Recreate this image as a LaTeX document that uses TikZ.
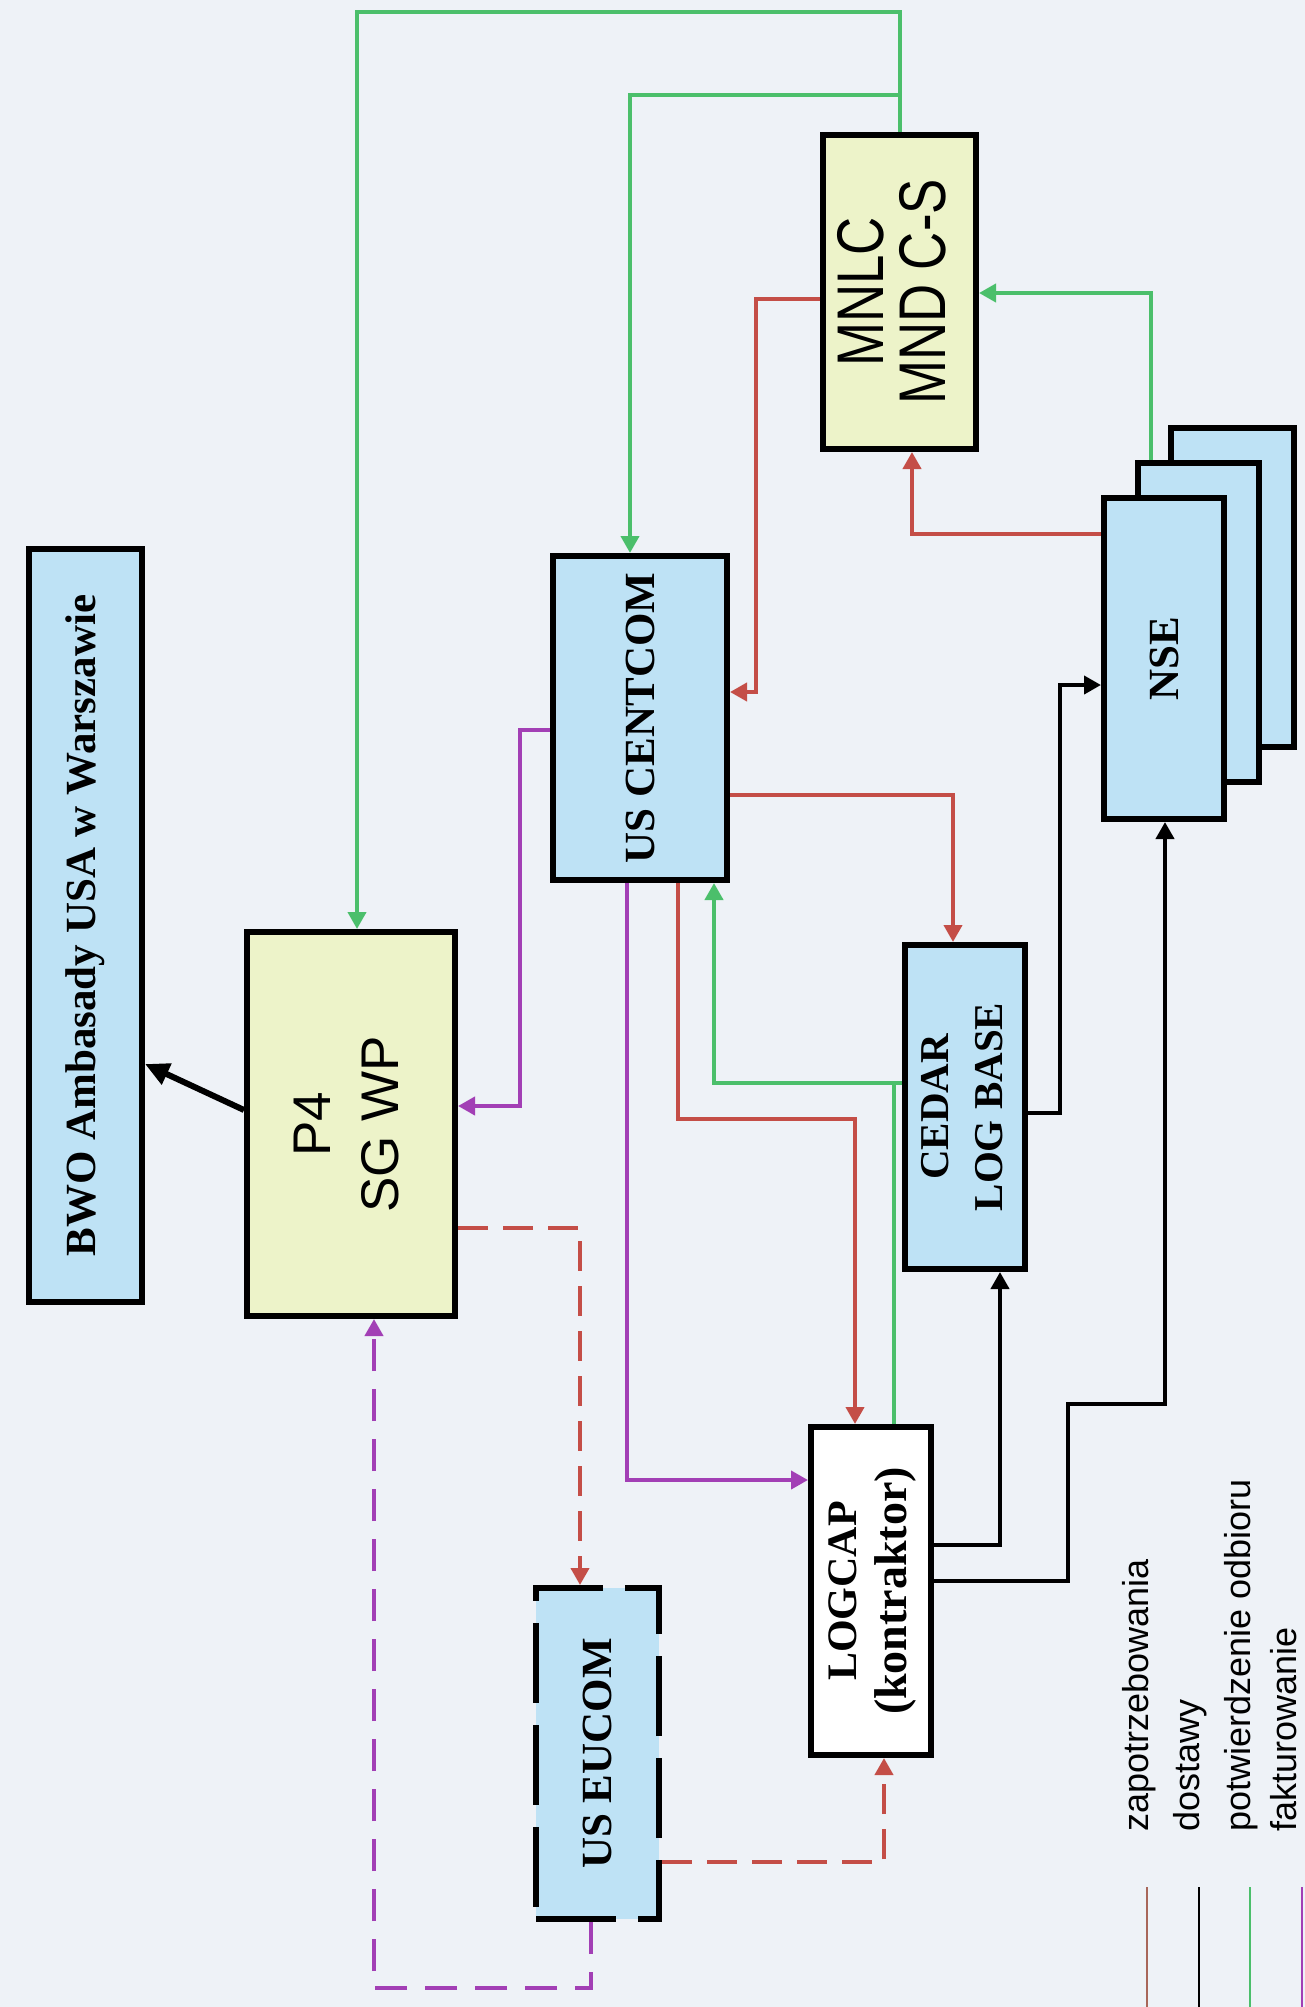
\documentclass[tikz,border=0pt]{standalone}
\usepackage{fontspec}
\setmainfont{Liberation Serif}
\newfontfamily\arialf{Liberation Sans}
\usetikzlibrary{arrows.meta,calc}
\definecolor{bgc}{HTML}{EEF2F7}
\definecolor{boxblue}{HTML}{BEE2F5}
\definecolor{boxyel}{HTML}{EDF3C9}
\definecolor{reqc}{HTML}{C44E47}
\definecolor{confc}{HTML}{4BBF6B}
\definecolor{invc}{HTML}{A23FB5}
\definecolor{legred}{HTML}{A8675A}
\tikzset{
 bx/.style n args={2}{draw=black,line width=6pt,inner sep=0pt,outer sep=3pt,minimum width=#1,minimum height=#2},
 blu/.style={fill=boxblue},
 yel/.style={fill=boxyel},
 conn/.style={line width=4pt,line join=miter},
 req/.style={conn,draw=reqc},
 conf/.style={conn,draw=confc},
 inv/.style={conn,draw=invc},
 dlv/.style={conn,draw=black},
 arr/.style={-{Triangle[length=17pt,width=18pt]}},
 dsh/.style={dash pattern=on 30pt off 15pt},
 tnr/.style={font=\fontsize{43}{54}\selectfont\bfseries},
 legtxt/.style={font=\arialf\fontsize{36}{40}\selectfont,rotate=90,anchor=base west,inner sep=0pt},
 legline/.style={line width=2.5pt},
}
\begin{document}
\begin{tikzpicture}[x=1pt,y=-1pt]
\fill[bgc] (0,0) rectangle (1305,2007);
\useasboundingbox (0,0) rectangle (1305,2007);

% boxes
\node[bx={113pt}{753pt},blu,tnr] (bwo) at (85.5,925.5) {\rotatebox{90}{BWO Ambasady USA w Warszawie}};
\node[bx={208pt}{384pt},yel,font=\arialf\fontsize{53}{68}\selectfont] (p4) at (351,1124) {\rotatebox{90}{\begin{tabular}{@{}c@{}}P4\\SG WP\end{tabular}}};
\node[bx={174pt}{324pt},blu,tnr] (cent) at (640,718) {\rotatebox{90}{US CENTCOM}};
\node[bx={153pt}{314pt},yel,font=\arialf\fontsize{66}{55}\selectfont] (mnlc) at (899.5,292) {\rotatebox{90}{\scalebox{0.8}[1]{\begin{tabular}{@{}c@{}}MNLC\\MND C-S\end{tabular}}}};
\node[bx={123pt}{319pt},blu] (nse3) at (1232.5,587.5) {};
\node[bx={121pt}{319pt},blu] (nse2) at (1198.5,622.5) {};
\node[bx={120pt}{321pt},blu,tnr] (nse) at (1164,658.5) {\rotatebox{90}{NSE}};
\node[bx={120pt}{324pt},blu,font=\fontsize{41}{54}\selectfont\bfseries] (ced) at (965,1107) {\rotatebox{90}{\begin{tabular}{@{}c@{}}CEDAR\\LOG BASE\end{tabular}}};
\node[bx={120pt}{328pt},fill=white,font=\fontsize{42}{50}\selectfont\bfseries] (log) at (871,1591) {\rotatebox{90}{\begin{tabular}{@{}c@{}}LOGCAP\\{\fontsize{46}{50}\selectfont(kontraktor)}\end{tabular}}};
\node[bx={123pt}{331pt},blu,tnr,dash pattern=on 80pt off 22pt] (euc) at (597.5,1753.5) {\rotatebox{90}{US EUCOM}};

% lane coordinates
\coordinate (ytop) at (0,12);
\coordinate (xg1) at (357,0);
\coordinate (a2) at (630,95);
\coordinate (a3) at (1151,293);
\coordinate (a4) at (714,1083);
\coordinate (a4b) at (894,1083);
\coordinate (b5) at (756,299);
\coordinate (b5b) at (756,692);
\coordinate (b6) at (953,795);
\coordinate (b7) at (678,1119);
\coordinate (b7b) at (855,1119);
\coordinate (b8) at (912,534);
\coordinate (b9) at (580,1228);
\coordinate (b10) at (884,1862);
\coordinate (c11) at (520,730);
\coordinate (c11b) at (520,1106);
\coordinate (c12) at (627,1480);
\coordinate (c13) at (591,1988);
\coordinate (c13b) at (374,1988);
\coordinate (d14) at (0,1110);
\coordinate (d14b) at (0,1064);
\coordinate (d15) at (1000,1545);
\coordinate (d16) at (1068,1581);
\coordinate (d16b) at (1068,1404);
\coordinate (d16c) at (1165,1404);
\coordinate (d17) at (1060,1113);
\coordinate (d17b) at (1060,685);

% green: potwierdzenie odbioru
\draw[conf,arr] (mnlc.north) |- (xg1 |- ytop) -- (p4.north -| xg1);
\draw[conf,arr] (mnlc.north |- a2) -| (cent.north -| a2);
\draw[conf,arr] (nse2.north -| a3) |- (mnlc.east |- a3);
\draw[conf,arr] (ced.west |- a4) -- (a4) -- (cent.south -| a4);
\draw[conf] (log.north -| a4b) -- (a4b);

% red: zapotrzebowania
\draw[req,arr] (mnlc.west |- b5) -- (b5) -- (b5b) -- (cent.east |- b5b);
\draw[req,arr] (cent.east |- b6) -| (ced.north -| b6);
\draw[req,arr] (cent.south -| b7) -- (b7) -- (b7b) -- (log.north -| b7b);
\draw[req,arr] (nse.west |- b8) -| (mnlc.south -| b8);
\draw[req,arr,dsh] (p4.east |- b9) -| (euc.north -| b9);
\draw[req,arr,dsh] (euc.east |- b10) -| (log.south -| b10);

% purple: fakturowanie
\draw[inv,arr] (cent.west |- c11) -- (c11) -- (c11b) -- (p4.east |- c11b);
\draw[inv,arr] (cent.south -| c12) |- (log.west |- c12);
\draw[inv,arr,dash pattern=on 32pt off 18pt] (euc.south -| c13) -- (c13) -- (c13b) -- (p4.south -| c13b);

% black: dostawy
\draw[line width=6pt,-{Triangle[length=24pt,width=22pt]}] (p4.west |- d14) -- (bwo.east |- d14b);
\draw[dlv,arr] (log.east |- d15) -| (ced.south -| d15);
\draw[dlv,arr] (log.east |- d16) -- (d16) -- (d16b) -- (d16c) -- (nse.south -| d16c);
\draw[dlv,arr] (ced.east |- d17) -- (d17) -- (d17b) -- (nse.west |- d17b);

% legend
\coordinate (l1a) at (1147,1887); \coordinate (l1b) at (1147,2007);
\coordinate (l2a) at (1199,1887); \coordinate (l2b) at (1199,2007);
\coordinate (l3a) at (1250,1887); \coordinate (l3b) at (1250,2007);
\coordinate (l4a) at (1302,1887); \coordinate (l4b) at (1302,2007);
\draw[legline,draw=legred] (l1a) -- (l1b);
\draw[legline,draw=black] (l2a) -- (l2b);
\draw[legline,draw=confc] (l3a) -- (l3b);
\draw[legline,draw=invc] (l4a) -- (l4b);
\node[legtxt] (lg1) at (1148,1832) {zapotrzebowania};
\node[legtxt] (lg2) at (1199,1832) {dostawy};
\node[legtxt] (lg3) at (1250,1832) {potwierdzenie odbioru};
\node[legtxt] (lg4) at (1296,1832) {fakturowanie};
\end{tikzpicture}
\end{document}
